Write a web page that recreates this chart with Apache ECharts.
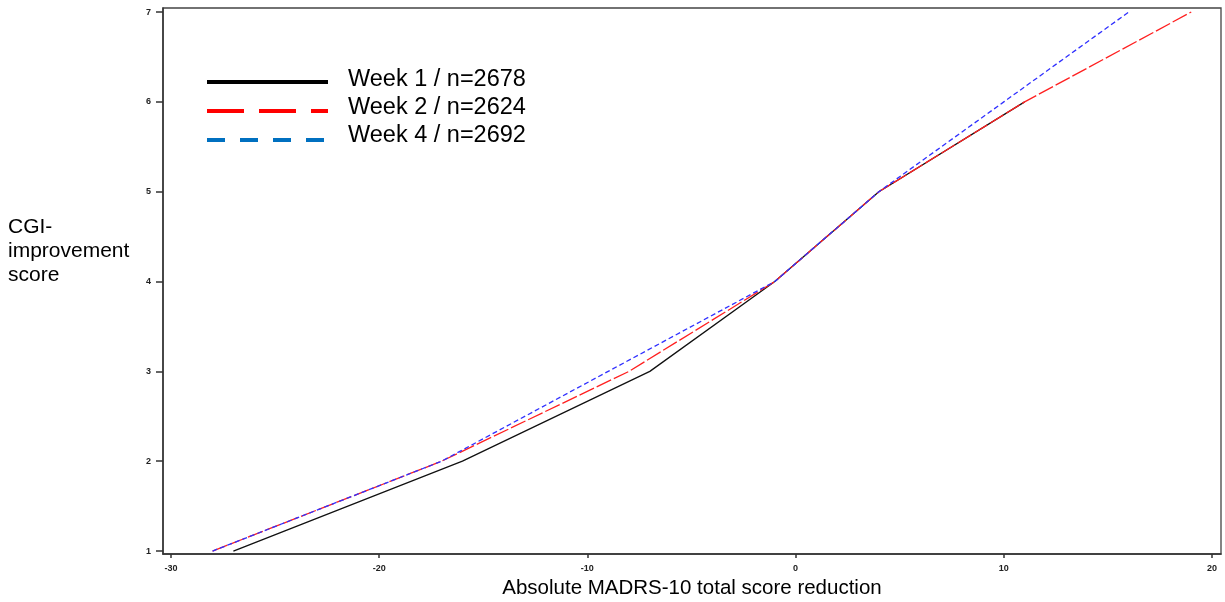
<!DOCTYPE html>
<html>
<head>
<meta charset="utf-8">
<script src="https://cdn.jsdelivr.net/npm/echarts@6/dist/echarts.min.js"></script>
<style>
  html, body { margin: 0; padding: 0; background: #fff; }
  #chart { width: 1225px; height: 602px; }
</style>
</head>
<body>
<div id="chart"></div>
<script>
// values
const xTicks = [-30, -20, -10, 0, 10, 20];
const yTicks = [1, 2, 3, 4, 5, 6, 7];

const week1X = [-27, -16, -7, -1, 4, 11];
const week1Y = [1, 2, 3, 4, 5, 6];
const week2X = [-28, -17, -8, -1, 4, 11, 19];
const week2Y = [1, 2, 3, 4, 5, 6, 7];
const week4X = [-28, -17, -9, -1, 4, 10, 16];
const week4Y = [1, 2, 3, 4, 5, 6, 7];

const legendNames = ["Week 1 / n=2678", "Week 2 / n=2624", "Week 4 / n=2692"];

const pairs = (xs, ys) => xs.map((x, i) => [x, ys[i]]);

const tickFont = {
  fontFamily: "Liberation Sans, Arial, sans-serif",
  fontSize: 9,
  fontWeight: "bold",
  color: "#222"
};

const option = {
  animation: false,
  grid: {
    left: 163,
    right: 4,
    top: 8,
    bottom: 48,
    outerBoundsMode: "none",
    containLabel: false,
    show: true,
    borderColor: "#444",
    borderWidth: 1.3
  },
  xAxis: {
    type: "value",
    min: -30.38,
    max: 20.43,
    name: "Absolute MADRS-10 total score reduction",
    nameLocation: "middle",
    nameGap: 22,
    nameTextStyle: {
      fontFamily: "Liberation Sans, Arial, sans-serif",
      fontSize: 20.5,
      color: "#000"
    },
    axisLine: { show: true, onZero: false, lineStyle: { color: "#333", width: 1.5 } },
    axisTick: {
      show: true,
      customValues: xTicks,
      length: 4,
      lineStyle: { color: "#333", width: 1.5 }
    },
    axisLabel: Object.assign({ customValues: xTicks, margin: 10 }, tickFont),
    splitLine: { show: false }
  },
  yAxis: {
    type: "value",
    min: 0.967,
    max: 7.045,
    axisLine: { show: true, onZero: false, lineStyle: { color: "#333", width: 1.5 } },
    axisTick: {
      show: true,
      customValues: yTicks,
      length: 7,
      lineStyle: { color: "#333", width: 1.5 }
    },
    axisLabel: Object.assign({ customValues: yTicks, margin: 12 }, tickFont),
    splitLine: { show: false }
  },
  graphic: [
    {
      type: "text",
      left: 8,
      top: 215,
      style: {
        text: "CGI-\nimprovement\nscore",
        fontFamily: "Liberation Sans, Arial, sans-serif",
        fontSize: 21,
        lineHeight: 24,
        fill: "#000"
      }
    },
    // legend
    {
      type: "line",
      shape: { x1: 207, y1: 82, x2: 328, y2: 82 },
      style: { stroke: "#000", lineWidth: 4 }
    },
    {
      type: "line",
      shape: { x1: 207, y1: 111, x2: 328, y2: 111 },
      style: { stroke: "#ff0000", lineWidth: 4, lineDash: [37, 15] }
    },
    {
      type: "line",
      shape: { x1: 207, y1: 140, x2: 325, y2: 140 },
      style: { stroke: "#0070c0", lineWidth: 4, lineDash: [18, 15] }
    },
    {
      type: "text",
      left: 348,
      top: 66,
      style: {
        text: legendNames.join("\n"),
        fontFamily: "Liberation Sans, Arial, sans-serif",
        fontSize: 23.5,
        lineHeight: 28,
        fill: "#000"
      }
    }
  ],
  series: [
    {
      name: legendNames[0],
      type: "line",
      symbol: "none",
      data: pairs(week1X, week1Y),
      lineStyle: { color: "#111", width: 1.3 }
    },
    {
      name: legendNames[1],
      type: "line",
      symbol: "none",
      data: pairs(week2X, week2Y),
      lineStyle: { color: "#ff2020", width: 1.3, type: [16, 3] }
    },
    {
      name: legendNames[2],
      type: "line",
      symbol: "none",
      data: pairs(week4X, week4Y),
      lineStyle: { color: "#3030ff", width: 1.3, type: [5, 3] }
    }
  ]
};

const chart = echarts.init(document.getElementById("chart"));
chart.setOption(option);
</script>
</body>
</html>
